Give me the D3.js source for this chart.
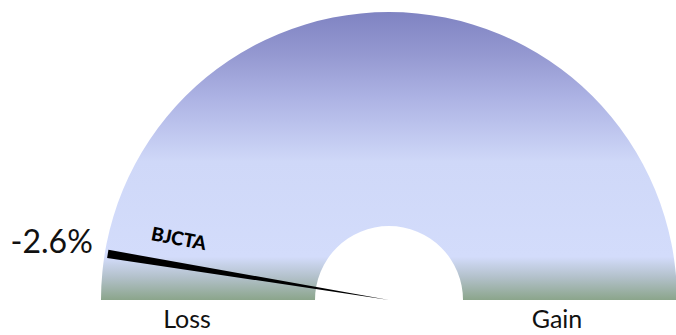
<!DOCTYPE html>
<html>
<head>
<meta charset="utf-8">
<script src="https://cdn.jsdelivr.net/npm/d3@7/dist/d3.min.js"></script>
<style>
  html, body { margin: 0; padding: 0; background: #fff; }
  svg { display: block; }
  text { font-family: Lato, "Open Sans", sans-serif; }
</style>
</head>
<body>
<svg id="chart" width="676" height="335"></svg>
<script>
// Gauge range (left end = loss, right end = gain)
const gaugeDomain = [-2.9, 2.9];
const sideLabels = ["Loss", "Gain"];
// Needle series
const needleNames = ["BJCTA"];
const needleValues = [-2.6];
// Band colour stops, top of dial to baseline
const bandOffsets = [0, 0.15, 0.30, 0.52, 0.85, 0.92, 1];
const bandColors = ["#7f83c2", "#9599d1", "#adb3e4", "#cfd8f8", "#d3dcfb", "#b3c1cb", "#8ba58b"];

const svg = d3.select("#chart");
const cx = 389, cy = 300, R = 288, r = 74;

const angle = d3.scaleLinear().domain(gaugeDomain).range([-Math.PI / 2, Math.PI / 2]);

const defs = svg.append("defs");
// Vertical shading, in the hub-centred coordinates of the group below
const grad = defs.append("linearGradient")
  .attr("id", "band")
  .attr("gradientUnits", "userSpaceOnUse")
  .attr("x1", 0).attr("x2", 0)
  .attr("y1", -R).attr("y2", 0);
grad.selectAll("stop")
  .data(bandOffsets)
  .join("stop")
  .attr("offset", d => d)
  .attr("stop-color", (d, i) => bandColors[i]);

const g = svg.append("g").attr("transform", `translate(${cx},${cy})`);

// Dial band
g.append("path")
  .attr("d", d3.arc()({
    innerRadius: r, outerRadius: R,
    startAngle: angle(gaugeDomain[0]), endAngle: angle(gaugeDomain[1])
  }))
  .attr("fill", "url(#band)");

// Needles: thin wedges from the hub
const halfWidth = 0.0145;
const needles = needleValues.map((v, i) => ({ name: needleNames[i], value: v, a: angle(v) }));

g.selectAll("path.needle")
  .data(needles)
  .join("path")
  .attr("class", "needle")
  .attr("d", d => d3.arc()({
    innerRadius: 0, outerRadius: R - 3,
    startAngle: d.a - halfWidth, endAngle: d.a + halfWidth
  }))
  .attr("fill", "#000");

// Series name along the needle
g.selectAll("text.name")
  .data(needles)
  .join("text")
  .attr("class", "name")
  .attr("transform", d => {
    const rad = 0.74 * R;
    const x = Math.sin(d.a) * rad, y = -Math.cos(d.a) * rad;
    const deg = (d.a + Math.PI / 2) * 180 / Math.PI + 1.5;
    return `translate(${x},${y - 27}) rotate(${deg})`;
  })
  .attr("text-anchor", "middle")
  .attr("dy", "0.35em")
  .attr("font-size", 19)
  .attr("font-weight", 900)
  .attr("letter-spacing", "-0.3")
  .attr("fill", "#000")
  .text(d => d.name);

// Value label beyond the needle tip
g.selectAll("text.value")
  .data(needles)
  .join("text")
  .attr("class", "value")
  .attr("x", d => Math.sin(d.a) * R - 12)
  .attr("y", d => -Math.cos(d.a) * R)
  .attr("text-anchor", "end")
  .attr("font-size", 32)
  .attr("fill", "#111")
  .text(d => d.value.toFixed(1) + "%");

// Loss / Gain under the band
const sideX = [187 - cx, 557 - cx];
g.selectAll("text.side")
  .data(sideLabels)
  .join("text")
  .attr("class", "side")
  .attr("x", (d, i) => sideX[i])
  .attr("y", 28)
  .attr("text-anchor", "middle")
  .attr("font-size", 25)
  .attr("fill", "#111")
  .text(d => d);
</script>
</body>
</html>
